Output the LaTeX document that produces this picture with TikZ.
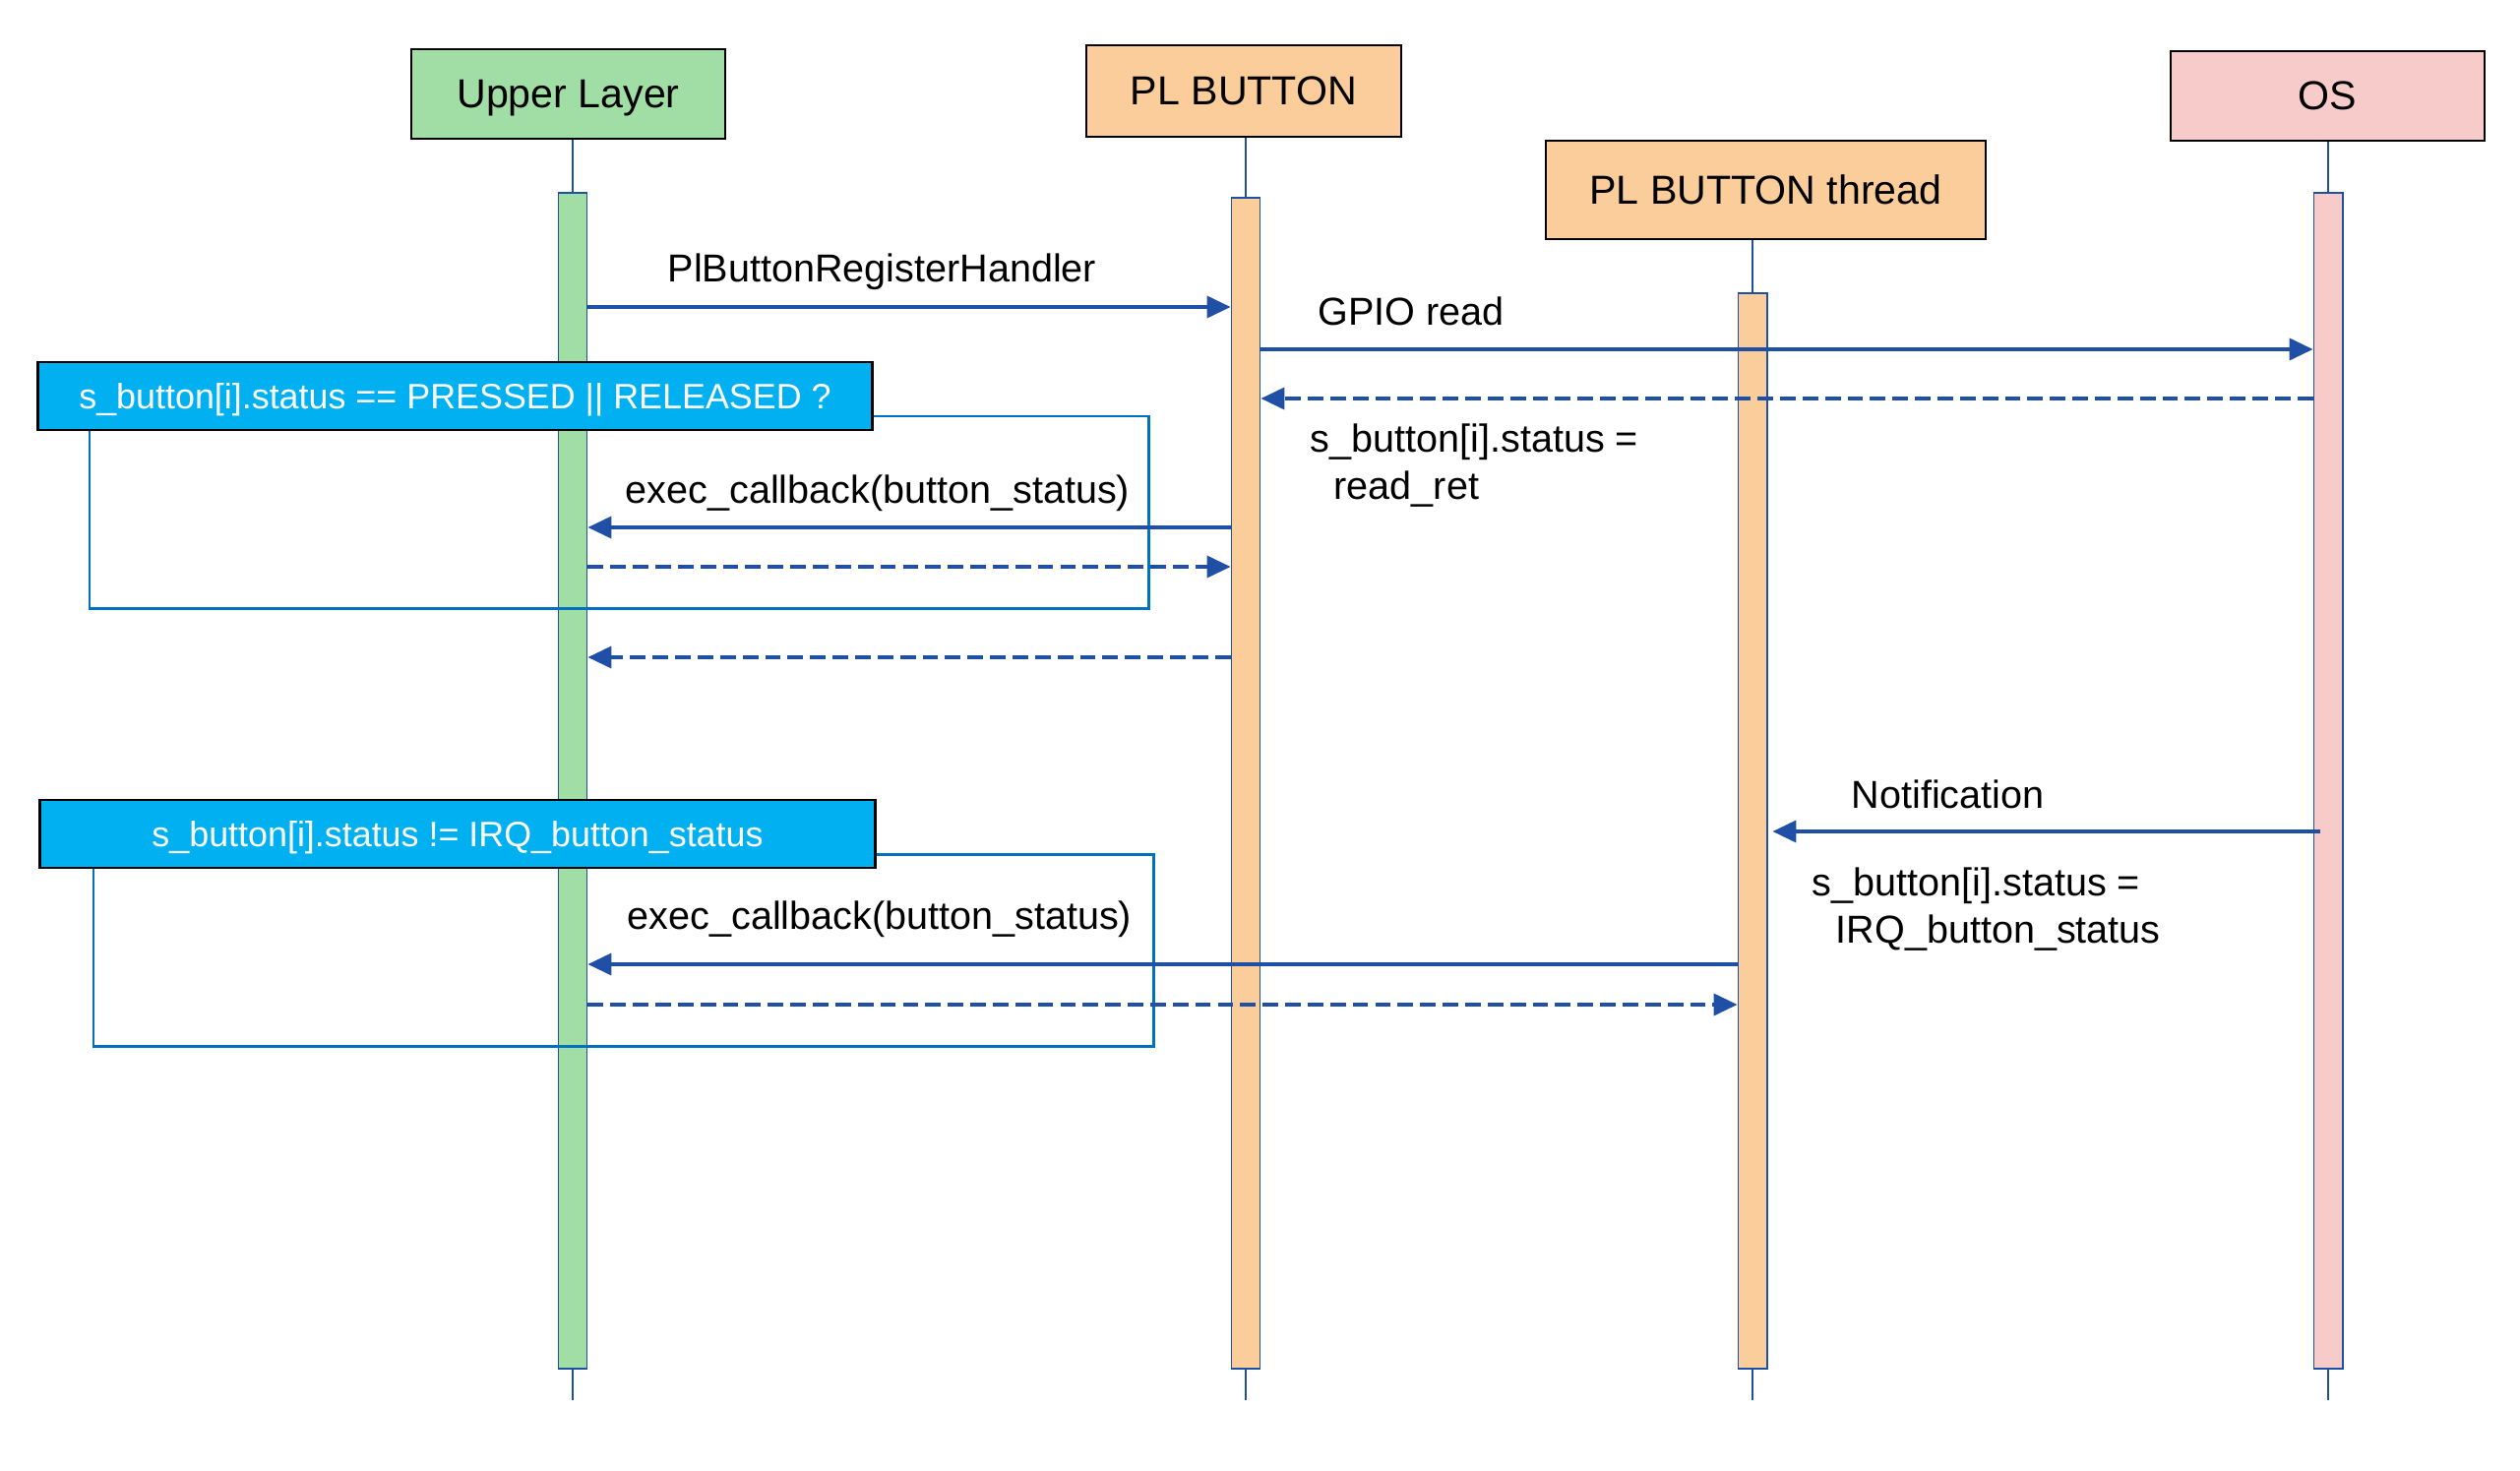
\documentclass[tikz,border=0pt]{standalone}
\usepackage{fontspec}
\setmainfont{Liberation Sans}
\usetikzlibrary{arrows.meta,positioning}
\definecolor{ulgreen}{RGB}{161,222,165}
\definecolor{plorange}{RGB}{250,205,155}
\definecolor{ospink}{RGB}{248,203,203}
\definecolor{altcyan}{RGB}{0,176,240}
\definecolor{msgblue}{RGB}{31,80,165}
\definecolor{frameblue}{RGB}{0,112,192}
\tikzset{font=\fontsize{11.25pt}{13.4pt}\selectfont}
\tikzset{
  actor/.style={draw=black, line width=0.75pt, inner sep=0pt,
    text height=0.82em, text depth=0pt,
    font=\fontsize{11.7pt}{14pt}\selectfont},
  bar/.style={draw=msgblue, line width=0.55pt, minimum width=0.29cm,
    minimum height=11.94cm, anchor=north, inner sep=0pt},
  life/.style={draw=msgblue, line width=0.5pt},
  msg/.style={draw=msgblue, line width=0.9pt, -{Triangle[length=6.8pt,width=6.3pt]}},
  ret/.style={msg, dash pattern=on 4.5pt off 2pt},
  lbl/.style={anchor=base west, inner sep=0pt, align=left},
  altframe/.style={draw=frameblue, line width=0.85pt},
  althead/.style={draw=black, fill=altcyan, line width=0.75pt, text=white,
    inner sep=0pt, minimum width=8.47cm, minimum height=0.69cm,
    text height=0.76em, text depth=0pt,
    font=\fontsize{10.2pt}{12pt}\selectfont},
}
\begin{document}
\begin{tikzpicture}[x=0.01cm, y=-0.01cm]
  \useasboundingbox (0,0) rectangle (2561,1494);

  % participants
  \node[actor, fill=ulgreen, minimum width=3.19cm, minimum height=0.91cm] (ulbox) at (577.5,95.5) {Upper Layer};
  \node[actor, fill=plorange, minimum width=3.2cm, minimum height=0.93cm] (plbox) at (1264,92.5) {PL BUTTON};
  \node[actor, fill=plorange, minimum width=4.47cm, minimum height=1cm] (thbox) at (1794.5,193) {PL BUTTON thread};
  \node[actor, fill=ospink, minimum width=3.19cm, minimum height=0.91cm] (osbox) at (2365.5,97.5) {OS};

  % lifelines and activations
  \node[bar, fill=ulgreen] (ulbar) at (582,195) {};
  \node[bar, fill=plorange, minimum height=11.89cm] (plbar) at (1266,200) {};
  \node[bar, fill=plorange, minimum height=10.92cm] (thbar) at (1781,297) {};
  \node[bar, fill=ospink] (osbar) at (2366,195) {};
  \foreach \a/\b in {ulbox/ulbar, plbox/plbar, thbox/thbar, osbox/osbar}{
    \draw[life] (\b.north |- \a.south) -- (\b.north);
    \draw[life] (\b.south) -- ++(0,31);
  };

  % alt frames
  \draw[altframe] (91,423) rectangle (1167,618);
  \draw[altframe] (95,868) rectangle (1172,1063);

  % messages
  \draw[msg] (ulbar.east |- 0,312) -- (plbar.west |- 0,312);
  \draw[msg] (plbar.east |- 0,355) -- (osbar.west |- 0,355);
  \draw[ret] (osbar.west |- 0,405) -- (plbar.east |- 0,405);
  \draw[msg] (plbar.west |- 0,536) -- (ulbar.east |- 0,536);
  \draw[ret] (ulbar.east |- 0,576) -- (plbar.west |- 0,576);
  \draw[ret] (plbar.west |- 0,668) -- (ulbar.east |- 0,668);
  \draw[msg] ([xshift=-0.08cm]osbar.center |- 0,845) -- ([xshift=0.05cm]thbar.east |- 0,845);
  \draw[msg] (thbar.west |- 0,980) -- (ulbar.east |- 0,980);
  \draw[ret] (ulbar.east |- 0,1021) -- (thbar.west |- 0,1021);

  % alt conditions
  \node[althead] (alt1) at (462.5,402.5) {s\_button[i].status == PRESSED || RELEASED ?};
  \node[althead, minimum width=8.48cm] (alt2) at (465,847.5) {s\_button[i].status != IRQ\_button\_status};

  % labels
  \node[lbl] (reglbl) at (678,286) {PlButtonRegisterHandler};
  \node[lbl] (gpiolbl) at (1339,330) {GPIO read};
  \node[lbl] (retlbl) at (1331,507) {s\_button[i].status =\\\hspace*{0.24cm}read\_ret};
  \node[lbl] (cb1lbl) at (635,511) {exec\_callback(button\_status)};
  \node[lbl] (notilbl) at (1881,821) {Notification};
  \node[lbl] (irqlbl) at (1841,958) {s\_button[i].status =\\\hspace*{0.24cm}IRQ\_button\_status};
  \node[lbl] (cb2lbl) at (637,944) {exec\_callback(button\_status)};
\end{tikzpicture}
\end{document}
